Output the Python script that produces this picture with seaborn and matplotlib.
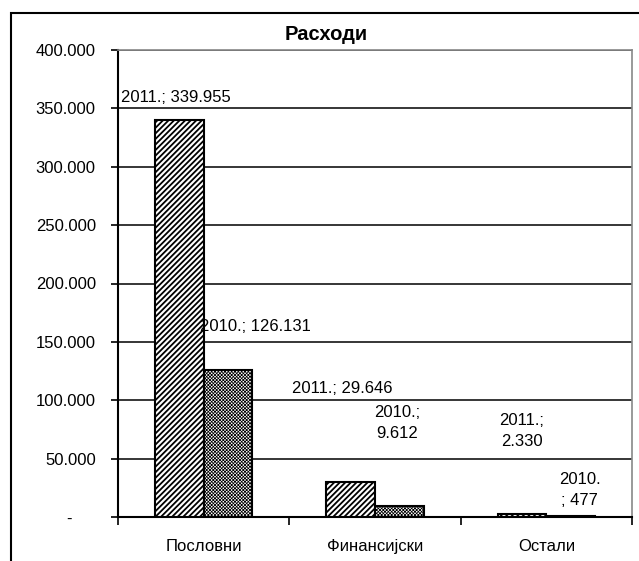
import matplotlib
matplotlib.use("Agg")
import matplotlib.pyplot as plt
import seaborn as sns
import pandas as pd
from matplotlib.patches import Rectangle
from matplotlib.ticker import FixedLocator, FuncFormatter

# ---- data ----
categories = ["Пословни", "Финансијски", "Остали"]
years = ["2011.", "2010."]
values_2011 = [339955, 29646, 2330]
values_2010 = [126131, 9612, 477]
title = "Расходи"
y_ticks = [0, 50000, 100000, 150000, 200000, 250000, 300000, 350000, 400000]

# label line-break style per bar (layout only)
label_breaks = {("2011.", 0): "; ", ("2010.", 0): "; ",
                ("2011.", 1): "; ", ("2010.", 1): ";\n",
                ("2011.", 2): ";\n", ("2010.", 2): "\n; "}
# label offsets in pixels (dx, dy) relative to bar top centre
label_offsets = {("2011.", 0): (-3, 23), ("2010.", 0): (27, 43),
                 ("2011.", 1): (-8, 94), ("2010.", 1): (-2, 83),
                 ("2011.", 2): (0, 83), ("2010.", 2): (9, 26)}

df = pd.DataFrame({
    "cat": categories * 2,
    "year": [years[0]] * 3 + [years[1]] * 3,
    "val": values_2011 + values_2010,
})

sns.set_theme(style="white")
plt.rcParams["font.family"] = ["Liberation Sans", "DejaVu Sans"]
plt.rcParams["hatch.linewidth"] = 1.0
plt.rcParams["text.color"] = "black"
plt.rcParams["xtick.color"] = "black"
plt.rcParams["ytick.color"] = "black"
plt.rcParams["xtick.labelcolor"] = "black"
plt.rcParams["ytick.labelcolor"] = "black"

W, H, DPI = 639, 561, 100
fig = plt.figure(figsize=(W / DPI, H / DPI), dpi=DPI)
ax = fig.add_axes([118 / W, 1 - 517 / H, (632 - 118) / W, (517 - 50) / H])

sns.barplot(data=df, x="cat", y="val", hue="year", hue_order=years,
            order=categories, palette=["white", "white"], edgecolor="black",
            linewidth=1.5, width=0.57, ax=ax, legend=False, zorder=3)

hatches = ["//////", "xxxxxxxxxx"]
hatch_lw = [1.3, 0.55]
for cont, h, hl in zip(ax.containers, hatches, hatch_lw):
    for bar in cont:
        bar.set_hatch(h)
        if hasattr(bar, "set_hatch_linewidth"):
            bar.set_hatch_linewidth(hl)

ax.set_xlim(-0.5, 2.5)
ax.set_ylim(0, 400000)
ax.set_xlabel("")
ax.set_ylabel("")

# grid
ax.yaxis.set_major_locator(FixedLocator(y_ticks))
ax.grid(axis="y", color="black", linewidth=1.1, zorder=0)
ax.set_axisbelow(True)


def fmt(v, pos=None):
    if v == 0:
        return "-     "
    return f"{int(v):,}".replace(",", ".")


ax.yaxis.set_major_formatter(FuncFormatter(fmt))
ax.tick_params(axis="y", which="major", direction="out", length=5, width=1.2,
               color="black", labelsize=12, pad=11, left=True)

# x ticks at category boundaries, labels at centres
ax.xaxis.set_major_locator(FixedLocator([-0.5, 0.5, 1.5, 2.5]))
ax.xaxis.set_minor_locator(FixedLocator([0, 1, 2]))
ax.set_xticklabels([])
ax.set_xticklabels(categories, minor=True)
ax.tick_params(axis="x", which="major", direction="out", length=6, width=1.2,
               color="black", bottom=True)
ax.tick_params(axis="x", which="minor", length=0, labelsize=12, pad=15.5)

for side in ["left", "bottom"]:
    ax.spines[side].set_color("black")
    ax.spines[side].set_linewidth(1.5)
for side in ["top", "right"]:
    ax.spines[side].set_color("#888888")
    ax.spines[side].set_linewidth(1.2)
    ax.spines[side].set_visible(True)

# data labels
vals = {years[0]: values_2011, years[1]: values_2010}
for yr, cont in zip(years, ax.containers):
    for i, bar in enumerate(cont):
        v = vals[yr][i]
        txt = yr + label_breaks[(yr, i)] + fmt(v)
        dx, dy = label_offsets[(yr, i)]
        ax.annotate(txt, xy=(bar.get_x() + bar.get_width() / 2, bar.get_height()),
                    xytext=(dx * 72 / DPI, dy * 72 / DPI), textcoords="offset points",
                    ha="center", va="center", fontsize=12, linespacing=1.5,
                    multialignment="center", zorder=5, annotation_clip=False,
                    color="black")

fig.text(326 / W, 1 - 35 / H, title, ha="center", va="center",
         fontsize=14.5, fontweight="bold", color="black")

# outer chart border (left/top visible)
fig.patches.append(Rectangle((11 / W, -0.1), 1.2, 1 - 13 / H + 0.1,
                             transform=fig.transFigure, fill=False,
                             edgecolor="black", linewidth=1.5))

fig.savefig("out.png", dpi=DPI)
